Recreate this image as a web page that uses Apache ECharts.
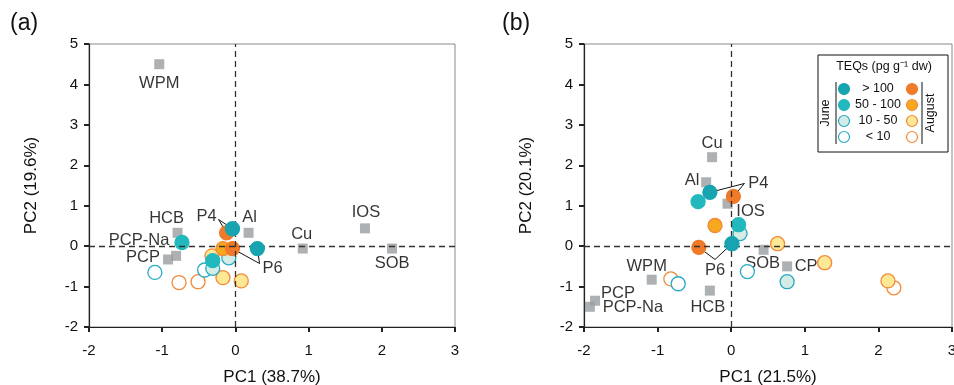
<!DOCTYPE html>
<html>
<head>
<meta charset="utf-8">
<script src="https://cdn.jsdelivr.net/npm/echarts@6/dist/echarts.min.js"></script>
<style>
  html, body { margin: 0; padding: 0; background: #fff; }
  #chart { width: 954px; height: 385px; }
</style>
</head>
<body>
<div id="chart"></div>
<script>
// axis ticks
const xTicks = [-2, -1, 0, 1, 2, 3];
const yTicks = [-2, -1, 0, 1, 2, 3, 4, 5];
const axisNames = {
  a: ['PC1 (38.7%)', 'PC2 (19.6%)'],
  b: ['PC1 (21.5%)', 'PC2 (20.1%)'],
};

// panel (a): variables (grey squares)
const aVarNames = ['WPM', 'HCB', 'PCP-Na', 'PCP', 'Al', 'Cu', 'IOS', 'SOB'];
const aVarX = [-1.04, -0.79, -0.81, -0.92, 0.18, 0.92, 1.77, 2.14];
const aVarY = [4.5, 0.33, -0.24, -0.33, 0.33, -0.06, 0.44, -0.06];
// panel (a): samples
const aJune100 = [[-0.04, 0.43], [0.30, -0.06]];
const aJune50 = [[-0.73, 0.09], [-0.31, -0.36]];
const aJune10 = [[-0.09, -0.29], [-0.31, -0.55]];
const aJuneLow = [[-0.42, -0.59], [-1.10, -0.65]];
const aAug100 = [[-0.12, 0.33], [-0.04, -0.06]];
const aAug50 = [[-0.17, -0.06]];
const aAug10 = [[-0.32, -0.24], [-0.17, -0.78], [0.08, -0.86]];
const aAugLow = [[-0.77, -0.90], [-0.51, -0.88]];

// panel (b): variables
const bVarNames = ['Cu', 'Al', 'IOS', 'SOB', 'CP', 'WPM', 'PCP', 'PCP-Na', 'HCB'];
const bVarX = [-0.26, -0.34, -0.05, 0.44, 0.76, -1.08, -1.85, -1.92, -0.29];
const bVarY = [2.2, 1.58, 1.05, -0.09, -0.5, -0.83, -1.35, -1.5, -1.1];
// panel (b): samples
const bJune100 = [[-0.29, 1.33], [0.01, 0.06]];
const bJune50 = [[-0.45, 1.10], [0.10, 0.53]];
const bJune10 = [[0.12, 0.31], [0.76, -0.88]];
const bJuneLow = [[0.22, -0.63], [-0.72, -0.93]];
const bAug100 = [[0.03, 1.23], [-0.44, -0.03]];
const bAug50 = [[-0.22, 0.51]];
const bAug10 = [[0.63, 0.06], [1.27, -0.41], [2.13, -0.86]];
const bAugLow = [[2.21, -1.03], [-0.82, -0.81]];

// leader labels (P4 / P6): vertex and the two samples it points to
const aLeaders = [
  { name: 'P4', at: [-0.23, 0.66], to: [aJune100[0], aAug100[0]] },
  { name: 'P6', at: [0.33, -0.43], to: [aAug100[1], aJune100[1]] },
];
const bLeaders = [
  { name: 'P4', at: [0.18, 1.55], to: [bJune100[0], bAug100[0]] },
  { name: 'P6', at: [-0.22, -0.33], to: [bAug100[1], bJune100[1]] },
];

// label offsets (px) from the square centre
const labelOffsets = {
  a: { 'WPM': [0, 19], 'HCB': [-11, -14], 'PCP-Na': [-37, -15], 'PCP': [-25, -2],
       'Al': [1, -15], 'Cu': [-1, -14], 'IOS': [1, -16], 'SOB': [0, 15],
       'P4': [-12, -3], 'P6': [13, 5] },
  b: { 'Cu': [0, -14], 'Al': [-14, -2], 'IOS': [23, 8], 'SOB': [-1, 14], 'CP': [19, 0],
       'WPM': [-5, -13], 'PCP': [23, -7], 'PCP-Na': [43, 1], 'HCB': [-2, 17],
       'P4': [14, 0], 'P6': [0, 11] },
};

const teal = '#18a3b0', tealMid = '#22b8bd', tealLight = '#d5ece6', tealLine = '#28abc3';
const orange = '#f07a28', orangeMid = '#f6a81f', yellow = '#fde895', orangeLine = '#f28a3a';
const FONT = 'Liberation Sans, Arial, Helvetica, sans-serif';

const myChart = echarts.init(document.getElementById('chart'));

function axes(idx, key) {
  const x = {
    gridIndex: idx, type: 'value', min: -2, max: 3, interval: 1,
    name: axisNames[key][0], nameLocation: 'middle', nameGap: 42,
    nameTextStyle: { fontSize: 17, color: '#111', fontFamily: FONT },
    axisLine: { show: true, onZero: false, lineStyle: { color: '#222', width: 1.2 } },
    axisTick: { show: true, length: 5, lineStyle: { color: '#222', width: 2 } },
    axisLabel: { fontSize: 15, color: '#111', margin: 16, fontFamily: FONT,
      formatter: (v) => (xTicks.includes(v) ? String(v) : '') },
    splitLine: { show: false },
  };
  const y = {
    gridIndex: idx, type: 'value', min: -2, max: 5, interval: 1,
    name: axisNames[key][1], nameLocation: 'middle', nameGap: 49, nameRotate: 90,
    nameTextStyle: { fontSize: 17, color: '#111', fontFamily: FONT },
    axisLine: { show: true, onZero: false, lineStyle: { color: '#222', width: 1.2 } },
    axisTick: { show: true, length: 5, lineStyle: { color: '#222', width: 2 } },
    axisLabel: { fontSize: 15, color: '#111', margin: 11, fontFamily: FONT,
      formatter: (v) => (yTicks.includes(v) ? String(v) : '') },
    splitLine: { show: false },
  };
  return [x, y];
}

function circles(idx, data, fill, stroke, z) {
  return {
    type: 'scatter', xAxisIndex: idx, yAxisIndex: idx, data: data,
    symbol: 'circle', symbolSize: 14, z: z || 4,
    itemStyle: { color: fill, borderColor: stroke, borderWidth: 1.3, opacity: 1 },
  };
}

function textLabel(half) {
  return { show: true, position: [half, half], align: 'center', verticalAlign: 'middle',
    formatter: '{b}', fontSize: 16.5, color: '#000', fontFamily: FONT };
}

function panelSeries(idx, key, names, xs, ys, s, leaders) {
  const off = labelOffsets[key];
  const list = [];
  // zero lines
  list.push({
    type: 'line', xAxisIndex: idx, yAxisIndex: idx, data: [], z: 1,
    markLine: {
      silent: true, symbol: 'none', label: { show: false },
      lineStyle: { color: '#333', type: [6, 4], width: 1.3 },
      data: [{ xAxis: 0 }, { yAxis: 0 }],
    },
  });
  // leader lines
  const segs = [];
  leaders.forEach((l) => l.to.forEach((p) => segs.push({ coords: [l.at, p] })));
  list.push({
    type: 'lines', coordinateSystem: 'cartesian2d', xAxisIndex: idx, yAxisIndex: idx,
    data: segs, z: 2, lineStyle: { color: '#111', width: 1, opacity: 1 },
  });
  // leader texts
  list.push({
    type: 'scatter', xAxisIndex: idx, yAxisIndex: idx, symbol: 'circle', symbolSize: 2, z: 6,
    itemStyle: { color: 'rgba(0,0,0,0)' },
    data: leaders.map((l) => ({ value: l.at, name: l.name,
      label: { offset: off[l.name] } })),
    label: textLabel(1),
  });
  // variables
  list.push({
    type: 'scatter', xAxisIndex: idx, yAxisIndex: idx, symbol: 'rect', symbolSize: 10, z: 3,
    itemStyle: { color: '#999da1' },
    data: names.map((n, i) => ({ value: [xs[i], ys[i]], name: n,
      label: { offset: off[n] } })),
    label: textLabel(5),
  });
  list.push(circles(idx, s.augLow, '#fff', orangeLine));
  list.push(circles(idx, s.juneLow, '#fff', tealLine));
  list.push(circles(idx, s.aug10, yellow, orangeLine));
  list.push(circles(idx, s.june10, tealLight, tealLine));
  list.push(circles(idx, s.aug50, orangeMid, orangeLine));
  list.push(circles(idx, s.june50, tealMid, tealMid));
  list.push(circles(idx, s.aug100, orange, orange));
  list.push(circles(idx, s.june100, teal, teal, 5));
  return list;
}

const [ax, ay] = axes(0, 'a');
const [bx, by] = axes(1, 'b');

// legend drawn as graphic
const legRows = ['> 100', '50 - 100', '10 - 50', '< 10'];
const legJune = [[teal, teal], [tealMid, tealMid], [tealLight, tealLine], ['#fff', tealLine]];
const legAug = [[orange, orange], [orangeMid, orangeLine], [yellow, orangeLine], ['#fff', orangeLine]];
const legY = [89, 105, 121, 137];
const legend = [
  { type: 'rect', shape: { x: 818, y: 55, width: 130, height: 97 },
    style: { fill: '#fff', stroke: '#111', lineWidth: 1 } },
  { type: 'text', x: 884, y: 67, style: { text: 'TEQs (pg g\u207B\u00B9 dw)', fontSize: 12.5,
    fill: '#111', align: 'center', verticalAlign: 'middle', fontFamily: FONT } },
  { type: 'line', shape: { x1: 836, y1: 82, x2: 836, y2: 144 }, style: { stroke: '#111', lineWidth: 1 } },
  { type: 'line', shape: { x1: 922, y1: 82, x2: 922, y2: 144 }, style: { stroke: '#111', lineWidth: 1 } },
  { type: 'text', x: 826, y: 113, rotation: Math.PI / 2, style: { text: 'June', fontSize: 12.5,
    fill: '#111', align: 'center', verticalAlign: 'middle', fontFamily: FONT } },
  { type: 'text', x: 931, y: 113, rotation: Math.PI / 2, style: { text: 'August', fontSize: 12.5,
    fill: '#111', align: 'center', verticalAlign: 'middle', fontFamily: FONT } },
];
legRows.forEach((t, i) => {
  legend.push({ type: 'circle', shape: { cx: 844, cy: legY[i], r: 5.5 },
    style: { fill: legJune[i][0], stroke: legJune[i][1], lineWidth: 1.2 } });
  legend.push({ type: 'circle', shape: { cx: 912, cy: legY[i], r: 5.5 },
    style: { fill: legAug[i][0], stroke: legAug[i][1], lineWidth: 1.2 } });
  legend.push({ type: 'text', x: 878, y: legY[i], style: { text: t, fontSize: 12.5,
    fill: '#111', align: 'center', verticalAlign: 'middle', fontFamily: FONT } });
});

const option = {
  animation: false,
  textStyle: { fontFamily: FONT },
  grid: [
    { left: 89, right: 499, top: 44, bottom: 58, show: true, borderColor: '#888', borderWidth: 1,
      outerBoundsMode: 'none', containLabel: false },
    { left: 584, right: 2, top: 44, bottom: 58, show: true, borderColor: '#888', borderWidth: 1,
      outerBoundsMode: 'none', containLabel: false },
  ],
  xAxis: [ax, bx],
  yAxis: [ay, by],
  graphic: [
    { type: 'text', x: 10, y: 12, style: { text: '(a)', fontSize: 23, fill: '#111', fontFamily: FONT } },
    { type: 'text', x: 502, y: 12, style: { text: '(b)', fontSize: 23, fill: '#111', fontFamily: FONT } },
  ].concat(legend),
  series: [].concat(
    panelSeries(0, 'a', aVarNames, aVarX, aVarY, {
      june100: aJune100, june50: aJune50, june10: aJune10, juneLow: aJuneLow,
      aug100: aAug100, aug50: aAug50, aug10: aAug10, augLow: aAugLow }, aLeaders),
    panelSeries(1, 'b', bVarNames, bVarX, bVarY, {
      june100: bJune100, june50: bJune50, june10: bJune10, juneLow: bJuneLow,
      aug100: bAug100, aug50: bAug50, aug10: bAug10, augLow: bAugLow }, bLeaders)
  ),
};
myChart.setOption(option);
</script>
</body>
</html>
